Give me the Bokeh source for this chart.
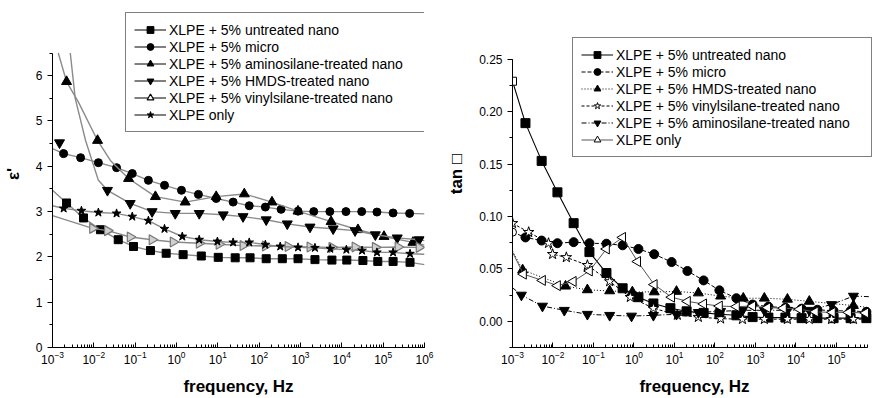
import math
from bokeh.plotting import figure
from bokeh.layouts import row
from bokeh.models import (Legend, LegendItem, Range1d, LogTicker,
                          SingleIntervalTicker, NumeralTickFormatter)
from bokeh.embed import file_html
from bokeh.resources import INLINE

FONT = "Liberation Sans"
NAN = float("nan")

# ---------------- permittivity (left panel) ----------------
# log10(frequency / Hz) of each measured point and the permittivity there
EPS_UNTREATED_LOGF = [-2.66, -2.25, -1.84, -1.41, -1.04, -0.63, -0.25, 0.16, 0.60, 1.01, 1.42,
                      1.78, 2.17, 2.56, 2.94, 3.35, 3.76, 4.12, 4.51, 4.87, 5.24, 5.65]
EPS_UNTREATED = [3.19, 2.86, 2.60, 2.38, 2.23, 2.14, 2.08, 2.05, 2.02, 1.99, 1.98,
                 1.98, 1.96, 1.96, 1.96, 1.94, 1.93, 1.93, 1.92, 1.90, 1.90, 1.88]
EPS_UNTREATED_FIT = [(-3.0, 3.47), (6.0, 1.83)]

EPS_MICRO_LOGF = [-2.73, -2.32, -1.89, -1.45, -1.07, -0.68, -0.29, 0.12, 0.53, 0.96, 1.37,
                  1.76, 2.15, 2.53, 2.94, 3.32, 3.71, 4.10, 4.48, 4.85, 5.24, 5.64]
EPS_MICRO = [4.28, 4.19, 4.08, 3.97, 3.84, 3.69, 3.58, 3.47, 3.38, 3.29, 3.21,
             3.13, 3.10, 3.05, 3.01, 3.00, 3.00, 3.00, 3.00, 2.99, 2.97, 2.96]
EPS_MICRO_FIT = [(-3.0, 4.39), (6.0, 2.95)]

EPS_AMINO_LOGF = [-2.66, -1.91, -1.16, -0.51, 0.21, 0.96, 1.64, 2.31, 2.94, 3.74, 4.39, 5.02, 5.72]
EPS_AMINO = [5.87, 4.57, 3.73, 3.33, 3.21, 3.33, 3.39, 3.21, 3.01, 2.78, 2.60, 2.45, 2.32]
EPS_AMINO_FIT = [(-2.86, 6.5), (-2.37, 5.41), (-1.6, 4.13), (6.0, 2.26)]

EPS_HMDS_LOGF = [-2.83, -1.67, -1.12, -0.59, -0.03, 0.55, 1.13, 1.61, 2.17, 2.68, 3.23,
                 3.79, 4.32, 4.81, 5.34, 5.87]
EPS_HMDS = [4.52, 3.47, 3.18, 3.00, 2.96, 2.96, 2.93, 2.89, 2.82, 2.73, 2.66,
            2.62, 2.58, 2.49, 2.42, 2.38]
EPS_HMDS_FIT = [(-2.57, 6.5), (-2.45, 5.5), (-2.2, 4.57), (-1.89, 3.69), (6.0, 2.36)]

EPS_VINYL_LOGF = [-2.03, -1.67, -1.12, -0.59, -0.08, 0.55, 1.03, 1.61, 2.15, 2.70, 3.23,
                  3.76, 4.32, 4.81, 5.36, 5.87]
EPS_VINYL = [2.63, 2.58, 2.44, 2.38, 2.33, 2.30, 2.28, 2.25, 2.24, 2.23, 2.22,
             2.21, 2.22, 2.21, 2.22, 2.21]
EPS_VINYL_FIT = [(-3.0, 2.91), (6.0, 2.21)]

EPS_XLPE_LOGF = [-2.73, -2.30, -1.89, -1.45, -1.07, -0.68, -0.29, 0.14, 0.55, 0.99, 1.37,
                 1.76, 2.15, 2.51, 2.94, 3.35, 3.72, 4.11, 4.49, 4.85, 5.24, 5.65]
EPS_XLPE = [3.07, 3.02, 2.98, 2.96, 2.89, 2.80, 2.62, 2.45, 2.38, 2.34, 2.32,
            2.32, 2.27, 2.23, 2.21, 2.20, 2.18, 2.16, 2.14, 2.10, 2.10, 2.07]
EPS_XLPE_FIT = [(-3.0, 3.13), (6.0, 2.06)]

# ---------------- loss tangent (right panel) ----------------
TAN_UNTREATED_LOGF = [-3.0, -2.68, -2.28, -1.89, -1.49, -1.10, -0.68, -0.28, 0.11, 0.48, 0.90,
                      1.30, 1.72, 2.11, 2.53, 2.93, 3.32, 3.74, 4.14, 4.53, 4.93, 5.35, 5.74]
TAN_UNTREATED = [0.229, 0.189, 0.153, 0.123, 0.0936, 0.066, 0.046, 0.0315, 0.023, 0.017, 0.0125,
                 0.0095, 0.008, 0.0067, 0.0057, 0.004, 0.0035, 0.0035, 0.003, 0.003, 0.003, 0.003, 0.003]
TAN_UNTREATED_FIT = [(-3.1, 0.248), (5.8, 0.003)]

TAN_MICRO_LOGF = [-3.0, -2.68, -2.28, -1.89, -1.49, -1.10, -0.68, -0.28, 0.11, 0.50, 0.93,
                  1.32, 1.72, 2.11, 2.53, 2.93, 3.32, 3.74, 4.14, 4.53, 4.93, 5.35, 5.74]
TAN_MICRO = [0.085, 0.080, 0.077, 0.0745, 0.0755, 0.0745, 0.074, 0.0725, 0.069, 0.064, 0.0565,
             0.048, 0.039, 0.0295, 0.022, 0.016, 0.014, 0.013, 0.012, 0.011, 0.010, 0.010, 0.009]
TAN_MICRO_FIT = [(5.8, 0.009)]

TAN_HMDS_LOGF = [-2.75, -1.69, -1.15, -0.60, -0.04, 0.50, 1.05, 1.59, 2.14, 2.70, 3.22,
                 3.79, 4.33, 5.42]
TAN_HMDS = [0.049, 0.0335, 0.030, 0.029, 0.028, 0.028, 0.0285, 0.027, 0.024, 0.022, 0.022,
            0.021, 0.019, 0.015]
TAN_HMDS_FIT = [(-3.0, 0.067), (5.8, 0.013)]

TAN_VINYL_LOGF = [-3.0, -2.60, -2.11, -2.01, -1.67, -1.15, -0.60, -0.09, 0.48, 1.07, 1.59,
                  2.14, 2.68, 3.22, 3.79, 4.33, 4.88, 5.42]
TAN_VINYL = [0.0935, 0.085, 0.0745, 0.064, 0.061, 0.0535, 0.038, 0.023, 0.0125, 0.006, 0.004,
             0.0025, 0.002, 0.002, 0.002, 0.002, 0.002, 0.002]
TAN_VINYL_FIT = [(5.8, 0.002)]

TAN_AMINO_LOGF = [-2.78, -2.26, -1.72, -1.15, -0.60, -0.06, 0.48, 1.05, 1.59, 2.14, 2.68,
                  3.22, 3.79, 4.33, 4.88, 5.42]
TAN_AMINO = [0.025, 0.0145, 0.0105, 0.0067, 0.0057, 0.005, 0.0057, 0.0067, 0.0085, 0.0095, 0.0105,
             0.0105, 0.0105, 0.0105, 0.016, 0.024]
TAN_AMINO_FIT = [(-3.0, 0.032), (5.8, 0.0235)]

TAN_XLPE_LOGF = [-2.73, -2.26, -1.89, -1.50, -1.10, -0.68, -0.28, 0.09, 0.50, 0.93, 1.32,
                 1.72, 2.11, 2.53, 2.93, 3.30, 3.69, 4.09, 4.48, 4.90, 5.30, 5.72]
TAN_XLPE = [0.045, 0.039, 0.034, 0.038, 0.048, 0.069, 0.080, 0.057, 0.035, 0.023, 0.019,
            0.0165, 0.0145, 0.014, 0.0145, 0.013, 0.0125, 0.0115, 0.009, 0.0085, 0.0085, 0.008]
TAN_XLPE_FIT = [(-3.0, 0.066), (5.8, 0.008)]

LEFT_LABELS = ["XLPE + 5% untreated nano", "XLPE + 5% micro",
               "XLPE + 5% aminosilane-treated nano", "XLPE + 5% HMDS-treated nano",
               "XLPE + 5% vinylsilane-treated nano", "XLPE only"]
RIGHT_LABELS = ["XLPE + 5% untreated nano", "XLPE + 5% micro",
                "XLPE + 5% HMDS-treated nano", "XLPE + 5% vinylsilane-treated nano",
                "XLPE + 5% aminosilane-treated nano", "XLPE only"]

RIGHT_ANGLE = -math.pi / 2   # triangle pointing right
LEFT_ANGLE = math.pi / 2     # triangle pointing left


def curve_points(logf, vals, fit, skip=()):
    pts = [(x, y) for i, (x, y) in enumerate(zip(logf, vals)) if i not in skip]
    pts += list(fit)
    pts.sort()
    return [10 ** x for x, _ in pts], [y for _, y in pts]


def style_axes(p, xbounds, ybounds):
    p.xgrid.visible = False
    p.ygrid.visible = False
    p.outline_line_color = None
    for ax in (p.xaxis[0], p.yaxis[0]):
        ax.axis_line_color = "black"
        ax.major_tick_line_color = "black"
        ax.minor_tick_line_color = "black"
        ax.major_label_text_font = FONT
        ax.major_label_text_font_size = "12px"
        ax.major_label_text_color = "black"
        ax.axis_label_text_font = FONT
        ax.axis_label_text_font_style = "bold"
        ax.axis_label_text_font_size = "17px"
        ax.axis_label_text_color = "black"
    xa, ya = p.xaxis[0], p.yaxis[0]
    xa.bounds = xbounds
    ya.bounds = ybounds
    xa.major_tick_in, xa.major_tick_out = 5, 0
    xa.minor_tick_in, xa.minor_tick_out = 3, 0
    ya.major_tick_in, ya.major_tick_out = 0, 5
    ya.minor_tick_in, ya.minor_tick_out = 0, 3
    xa.ticker = LogTicker(desired_num_ticks=10, num_minor_ticks=10)
    xa.major_label_standoff = 3
    ya.major_label_standoff = 5
    xa.axis_label_standoff = 10
    ya.axis_label_standoff = 10


def make_legend(p, entries, loc, label_width):
    items = []
    for label, line_kw, mk_kw in entries:
        # single NaN point: nothing is drawn in the frame, only the legend swatch
        r1 = p.line(x=[NAN], y=[NAN], **line_kw)
        r2 = p.scatter(x=[NAN], y=[NAN], **mk_kw)
        items.append(LegendItem(label=label, renderers=[r1, r2]))
    leg = Legend(items=items, location=loc, margin=0, padding=8, spacing=0,
                 glyph_width=32, glyph_height=17, label_height=17,
                 label_standoff=3, label_width=label_width,
                 label_text_font=FONT, label_text_font_size="14px",
                 label_text_color="black",
                 border_line_color="black", border_line_width=1,
                 background_fill_color="white", background_fill_alpha=1.0)
    p.add_layout(leg)


# ---------------- left panel: permittivity ----------------
# frame reaches the top edge so the legend box can sit above the axis end
p1 = figure(width=438, height=398, x_axis_type="log",
            x_range=Range1d(1e-3, 1e6), y_range=Range1d(0, 7.66),
            output_backend="svg", toolbar_location=None,
            min_border_left=52, min_border_right=14, min_border_top=0, min_border_bottom=51)
style_axes(p1, (1e-3, 1e6), (0, 6.5))
p1.yaxis.ticker = SingleIntervalTicker(interval=1, num_minor_ticks=2)
p1.xaxis.axis_label = "frequency, Hz"
p1.yaxis.axis_label = "\u03b5'"

GREY = "#8a8a8a"
left_series = [
    (EPS_UNTREATED_LOGF, EPS_UNTREATED, EPS_UNTREATED_FIT, (),
     dict(marker="square", size=8, color="black")),
    (EPS_MICRO_LOGF, EPS_MICRO, EPS_MICRO_FIT, (),
     dict(marker="circle", size=8, color="black")),
    (EPS_AMINO_LOGF, EPS_AMINO, EPS_AMINO_FIT, (),
     dict(marker="triangle", size=10, color="black")),
    (EPS_HMDS_LOGF, EPS_HMDS, EPS_HMDS_FIT, (0,),
     dict(marker="inverted_triangle", size=10, color="black")),
    (EPS_VINYL_LOGF, EPS_VINYL, EPS_VINYL_FIT, (),
     dict(marker="triangle", size=10, angle=RIGHT_ANGLE, line_color="#777777",
          fill_color="#d0d0d0", line_width=1.2)),
    (EPS_XLPE_LOGF, EPS_XLPE, EPS_XLPE_FIT, (),
     dict(marker="star", size=9, color="black")),
]
for logf, vals, fit, skip, mk in left_series:
    cx, cy = curve_points(logf, vals, fit, skip)
    p1.line(cx, cy, line_color=GREY, line_width=1.4)
    p1.scatter([10 ** x for x in logf], vals, **mk)

left_legend = []
for label, (_, _, _, _, mk) in zip(LEFT_LABELS, left_series):
    mk_leg = dict(mk)
    if mk_leg.get("fill_color") == "#d0d0d0":
        mk_leg.update(line_color="black", fill_color="white")
    left_legend.append((label, dict(line_color="black", line_width=1), mk_leg))
make_legend(p1, left_legend, (73, 215), 248)

# ---------------- right panel: loss tangent ----------------
p2 = figure(width=438, height=398, x_axis_type="log",
            x_range=Range1d(1e-3, 10 ** 5.99), y_range=Range1d(-0.025, 0.306),
            output_backend="svg", toolbar_location=None,
            min_border_left=74, min_border_right=0, min_border_top=0, min_border_bottom=51)
style_axes(p2, (1e-3, 10 ** 5.78), (-0.025, 0.25))
p2.yaxis.ticker = SingleIntervalTicker(interval=0.05, num_minor_ticks=2)
p2.yaxis.formatter = NumeralTickFormatter(format="0.00")
p2.xaxis.axis_label = "frequency, Hz"
p2.yaxis.axis_label = "tan \u25a1"

right_series = [
    (TAN_UNTREATED_LOGF, TAN_UNTREATED, TAN_UNTREATED_FIT, True,
     dict(line_color="black", line_width=1.1),
     dict(marker="square", size=9, color="black")),
    (TAN_MICRO_LOGF, TAN_MICRO, TAN_MICRO_FIT, True,
     dict(line_color="black", line_width=1, line_dash="4 2"),
     dict(marker="circle", size=9, color="black")),
    (TAN_HMDS_LOGF, TAN_HMDS, TAN_HMDS_FIT, False,
     dict(line_color="black", line_width=1, line_dash="1 2"),
     dict(marker="triangle", size=10, color="black")),
    (TAN_VINYL_LOGF, TAN_VINYL, TAN_VINYL_FIT, False,
     dict(line_color="black", line_width=1, line_dash="3 2"),
     dict(marker="star", size=11, line_color="black", fill_color="white", line_width=1)),
    (TAN_AMINO_LOGF, TAN_AMINO, TAN_AMINO_FIT, False,
     dict(line_color="black", line_width=1, line_dash="5 2 1 2"),
     dict(marker="inverted_triangle", size=10, color="black")),
    (TAN_XLPE_LOGF, TAN_XLPE, TAN_XLPE_FIT, False,
     dict(line_color="#555555", line_width=1),
     dict(marker="triangle", size=10, angle=LEFT_ANGLE, line_color="black",
          fill_color="white", line_width=1)),
]
for logf, vals, fit, open_first, line_kw, mk in right_series:
    cx, cy = curve_points(logf, vals, fit)
    p2.line(cx, cy, **line_kw)
    fx = [10 ** x for x in logf]
    if open_first:
        mk_open = dict(mk)
        mk_open.pop("color", None)
        mk_open.update(line_color="black", fill_color="white", size=mk["size"] - 1)
        p2.scatter(fx[:1], vals[:1], **mk_open)
        p2.scatter(fx[1:], vals[1:], **mk)
    else:
        p2.scatter(fx, vals, **mk)

right_legend = [(label, line_kw, mk) for label, (_, _, _, _, line_kw, mk)
                in zip(RIGHT_LABELS, right_series)]
make_legend(p2, right_legend, (60, 190), 247)

layout = row(p1, p2)
open("out.html", "w").write(file_html(layout, INLINE))
